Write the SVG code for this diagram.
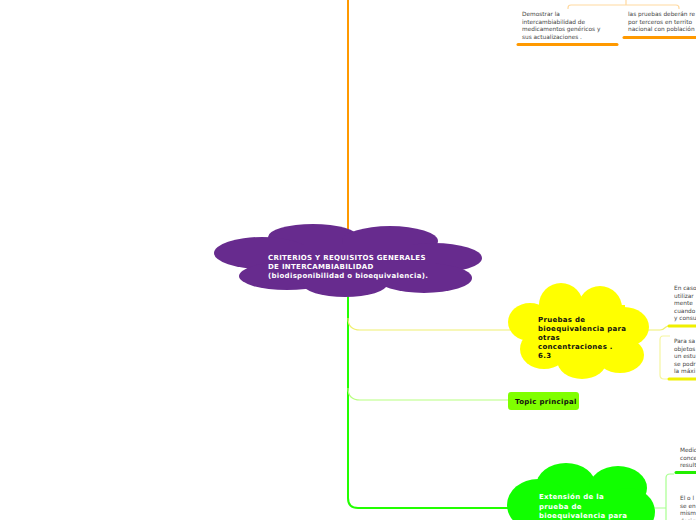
<svg xmlns="http://www.w3.org/2000/svg" width="696" height="520" viewBox="0 0 696 520">
<style>
.t{font-family:"DejaVu Sans",Verdana,sans-serif;font-weight:bold;font-size:7px;letter-spacing:0.3px}
.s{font-family:"DejaVu Sans",Verdana,sans-serif;font-size:5.8px;fill:#444}
.c{fill:none;stroke-width:1.2}
</style>
<rect width="696" height="520" fill="#fff"/>
<g id="connectors">
<path d="M348,0 V235" stroke="#ff9900" stroke-width="2" fill="none"/>
<path d="M348,292 V498 Q348,508 358,508 H512" stroke="#22ff00" stroke-width="2" fill="none"/>
<path d="M348,318 Q348,330 360,330 H512" class="c" stroke="#f0f070"/>
<path d="M348,388 Q348,400 360,400 H510" class="c" stroke="#b8ff80"/>
<path d="M568,9 V8 Q568,5 571,5 H676 Q679,5 679,8 V9 M626,0 V5" class="c" stroke="#ffd9a0"/>
<path d="M646,330 H660 Q663,330 666,327 L668,326" class="c" stroke="#f0f070"/>
<path d="M670,336 H663 Q660,336 660,340 V375 Q660,379 664,379 H670" class="c" stroke="#f5f5a0"/>
<path d="M650,508 H666 M674,474 H670 Q666,474 666,478 V520" class="c" stroke="#a8ff90"/>
</g>
<g id="top-children">
<text class="s"><tspan x="522" y="16">Demostrar la</tspan><tspan x="522" y="23.5">intercambiabilidad de</tspan><tspan x="522" y="31">medicamentos genéricos y</tspan><tspan x="522" y="38.5">sus actualizaciones .</tspan></text>
<path d="M518,44.5 H617" stroke="#ff9900" stroke-width="3" stroke-linecap="round"/>
<text class="s"><tspan x="628" y="16">las pruebas deberán re</tspan><tspan x="628" y="23.5">por terceros en territo</tspan><tspan x="628" y="31">nacional con población</tspan></text>
<path d="M624,37.5 H700" stroke="#ff9900" stroke-width="3" stroke-linecap="round"/>
</g>
<g id="central">
<g fill="#672b8e">
<ellipse cx="313" cy="237" rx="45" ry="13"/>
<ellipse cx="390" cy="241" rx="48" ry="15"/>
<ellipse cx="262" cy="253" rx="48" ry="16"/>
<ellipse cx="434" cy="258" rx="48" ry="15"/>
<ellipse cx="287" cy="276" rx="48" ry="14"/>
<ellipse cx="345" cy="284" rx="42" ry="13"/>
<ellipse cx="424" cy="278" rx="48" ry="15"/>
<rect x="275" y="245" width="160" height="35"/>
</g>
<text class="t" fill="#fff" letter-spacing="0.5"><tspan x="268" y="260">CRITERIOS Y REQUISITOS GENERALES</tspan><tspan x="268" y="269">DE INTERCAMBIABILIDAD</tspan><tspan x="268" y="278">(biodisponibilidad o bioequivalencia).</tspan></text>
</g>
<g id="yellow-node">
<g fill="#ffff00">
<circle cx="561" cy="305" r="22"/>
<circle cx="600" cy="308" r="22"/>
<ellipse cx="530" cy="322" rx="22" ry="19"/>
<ellipse cx="624" cy="327" rx="25" ry="20"/>
<ellipse cx="544" cy="349" rx="24" ry="20"/>
<ellipse cx="582" cy="360" rx="25" ry="19"/>
<ellipse cx="620" cy="355" rx="24" ry="18"/>
<rect x="530" y="305" width="95" height="50"/>
</g>
<text class="t" fill="#111"><tspan x="538" y="322">Pruebas de</tspan><tspan x="538" y="331">bioequivalencia para</tspan><tspan x="538" y="340">otras</tspan><tspan x="538" y="349">concentraciones .</tspan><tspan x="538" y="358">6.3</tspan></text>
</g>
<g id="yellow-children">
<text class="s"><tspan x="674" y="290">En caso</tspan><tspan x="674" y="297.5">utilizar</tspan><tspan x="674" y="305">mente</tspan><tspan x="674" y="312.5">cuando</tspan><tspan x="674" y="320">y consu</tspan></text>
<path d="M669,326 H700" stroke="#f0f000" stroke-width="3" stroke-linecap="round"/>
<text class="s"><tspan x="674" y="343">Para sa</tspan><tspan x="674" y="350.5">objetos</tspan><tspan x="674" y="358">un estu</tspan><tspan x="674" y="365.5">se podr</tspan><tspan x="674" y="373">la máxi</tspan></text>
<path d="M669,379 H700" stroke="#f0f000" stroke-width="3" stroke-linecap="round"/>
</g>
<g id="topic">
<rect x="508" y="392" width="71" height="18" rx="3" fill="#80ff00"/>
<text class="t" x="515" y="404" font-size="6.6" fill="#111">Topic principal</text>
</g>
<g id="green-node">
<g fill="#11ff00">
<ellipse cx="566" cy="486" rx="30" ry="23"/>
<ellipse cx="618" cy="488" rx="29" ry="22"/>
<ellipse cx="538" cy="505" rx="31" ry="26"/>
<ellipse cx="628" cy="512" rx="27" ry="24"/>
<rect x="545" y="490" width="85" height="40"/>
</g>
<text class="t" fill="#fff"><tspan x="539" y="499">Extensión de la</tspan><tspan x="539" y="508.5">prueba de</tspan><tspan x="539" y="518">bioequivalencia para</tspan></text>
</g>
<g id="green-children">
<text class="s"><tspan x="680" y="452">Medic</tspan><tspan x="680" y="459.5">conce</tspan><tspan x="680" y="467">result</tspan></text>
<path d="M676,472.5 H700" stroke="#22ee00" stroke-width="3" stroke-linecap="round"/>
<text class="s"><tspan x="680" y="500">El o l</tspan><tspan x="680" y="507.5">se en</tspan><tspan x="680" y="515">mism</tspan><tspan x="680" y="522.5">desig</tspan></text>
</g>
</svg>
